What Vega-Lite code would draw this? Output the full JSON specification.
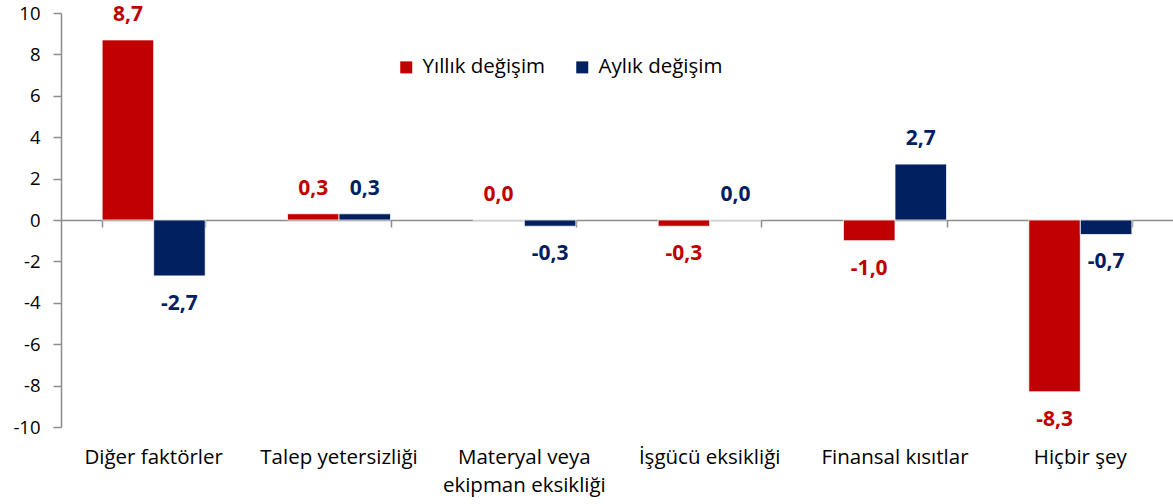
{
  "$schema": "https://vega.github.io/schema/vega-lite/v6.json",
  "width": 1112,
  "height": 414,
  "autosize": "none",
  "padding": {"left": 61, "top": 13, "right": 0, "bottom": 77},
  "config": {
    "view": {"stroke": null},
    "font": "Open Sans",
    "locale": {"number": {"decimal": ",", "thousands": ".", "grouping": [3], "currency": ["", ""], "minus": "-"}}
  },
  "data": {
    "values": [
      {"c": "Diğer faktörler", "s": "Yıllık değişim", "v": 8.7},
      {"c": "Diğer faktörler", "s": "Aylık değişim", "v": -2.7},
      {"c": "Talep yetersizliği", "s": "Yıllık değişim", "v": 0.3},
      {"c": "Talep yetersizliği", "s": "Aylık değişim", "v": 0.3},
      {"c": "Materyal veya ekipman eksikliği", "s": "Yıllık değişim", "v": 0.0},
      {"c": "Materyal veya ekipman eksikliği", "s": "Aylık değişim", "v": -0.3},
      {"c": "İşgücü eksikliği", "s": "Yıllık değişim", "v": -0.3},
      {"c": "İşgücü eksikliği", "s": "Aylık değişim", "v": 0.0},
      {"c": "Finansal kısıtlar", "s": "Yıllık değişim", "v": -1.0},
      {"c": "Finansal kısıtlar", "s": "Aylık değişim", "v": 2.7},
      {"c": "Hiçbir şey", "s": "Yıllık değişim", "v": -8.3},
      {"c": "Hiçbir şey", "s": "Aylık değişim", "v": -0.7}
    ]
  },
  "resolve": {"scale": {"x": "shared"}, "axis": {"x": "independent"}},
  "layer": [
    {
      "mark": {"type": "bar", "stroke": "#ffffff", "strokeWidth": 0.75},
      "encoding": {
        "x": {
          "field": "c", "type": "nominal",
          "sort": ["Diğer faktörler", "Talep yetersizliği", "Materyal veya ekipman eksikliği", "İşgücü eksikliği", "Finansal kısıtlar", "Hiçbir şey"],
          "scale": {"paddingInner": 0.444, "paddingOuter": 0.222},
          "axis": {
            "title": null, "domain": false, "ticks": false, "labelAngle": 0,
            "labelFontSize": 20.5, "labelColor": "#000000", "labelPadding": 20,
            "labelLineHeight": 28, "labelBaseline": "top",
            "labelExpr": "datum.label == 'Materyal veya ekipman eksikliği' ? ['Materyal veya', 'ekipman eksikliği'] : datum.label"
          }
        },
        "xOffset": {"field": "s", "type": "nominal", "sort": ["Yıllık değişim", "Aylık değişim"], "scale": {"paddingInner": 0}},
        "y": {
          "field": "v", "type": "quantitative",
          "scale": {"domain": [-10, 10], "nice": false},
          "axis": {
            "title": null, "values": [-10, -8, -6, -4, -2, 0, 2, 4, 6, 8, 10], "format": "d",
            "grid": false, "domainColor": "#8c8c8c", "domainWidth": 1.5,
            "tickColor": "#8c8c8c", "tickWidth": 1.5, "tickSize": 8,
            "labelFontSize": 18.5, "labelColor": "#000000", "labelPadding": 13
          }
        },
        "color": {
          "field": "s", "type": "nominal",
          "sort": ["Yıllık değişim", "Aylık değişim"],
          "scale": {"domain": ["Yıllık değişim", "Aylık değişim"], "range": ["#C00000", "#002060"]},
          "legend": {
            "title": null, "orient": "none", "direction": "horizontal",
            "legendX": 335, "legendY": 44, "symbolType": "square", "symbolSize": 144,
            "symbolStrokeWidth": 0, "labelFontSize": 20.5, "labelColor": "#000000",
            "columnPadding": 26, "labelOffset": 6
          }
        }
      }
    },
    {
      "transform": [{"filter": "datum.v >= 0"}],
      "mark": {"type": "text", "baseline": "alphabetic", "dy": -19, "fontSize": 21, "fontWeight": "bold"},
      "encoding": {
        "x": {
          "field": "c", "type": "nominal",
          "sort": ["Diğer faktörler", "Talep yetersizliği", "Materyal veya ekipman eksikliği", "İşgücü eksikliği", "Finansal kısıtlar", "Hiçbir şey"],
          "axis": {
            "title": null, "orient": "bottom", "offset": -207, "labels": false,
            "domainColor": "#8c8c8c", "domainWidth": 1.5, "tickColor": "#8c8c8c",
            "tickWidth": 1.5, "tickSize": 7, "tickBand": "extent"
          }
        },
        "xOffset": {"field": "s", "type": "nominal", "sort": ["Yıllık değişim", "Aylık değişim"]},
        "y": {"field": "v", "type": "quantitative"},
        "text": {"field": "v", "type": "quantitative", "format": ".1f"},
        "color": {"field": "s", "type": "nominal", "legend": null}
      }
    },
    {
      "transform": [{"filter": "datum.v < 0"}],
      "mark": {"type": "text", "dy": 28, "fontSize": 21, "fontWeight": "bold"},
      "encoding": {
        "x": {
          "field": "c", "type": "nominal",
          "sort": ["Diğer faktörler", "Talep yetersizliği", "Materyal veya ekipman eksikliği", "İşgücü eksikliği", "Finansal kısıtlar", "Hiçbir şey"],
          "axis": null
        },
        "xOffset": {"field": "s", "type": "nominal", "sort": ["Yıllık değişim", "Aylık değişim"]},
        "y": {"field": "v", "type": "quantitative"},
        "text": {"field": "v", "type": "quantitative", "format": ".1f"},
        "color": {"field": "s", "type": "nominal", "legend": null}
      }
    }
  ]
}
